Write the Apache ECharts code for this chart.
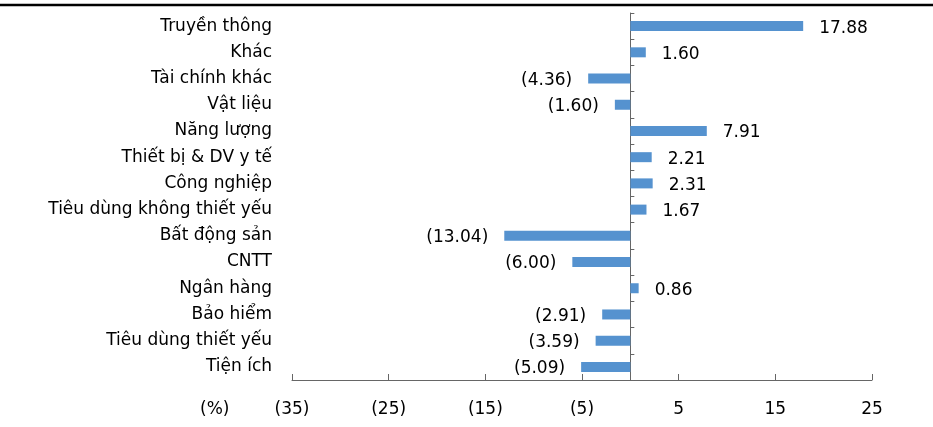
<!DOCTYPE html>
<html><head><meta charset="utf-8">
<script src="https://cdn.jsdelivr.net/npm/echarts@6/dist/echarts.min.js"></script>
<style>html,body{margin:0;padding:0;background:#fff}#c{width:933px;height:427px}</style>
</head><body><div id="c"></div>
<script>
var categories = ["Truyền thông","Khác","Tài chính khác","Vật liệu","Năng lượng","Thiết bị & DV y tế","Công nghiệp","Tiêu dùng không thiết yếu","Bất động sản","CNTT","Ngân hàng","Bảo hiểm","Tiêu dùng thiết yếu","Tiện ích"];
var values = [17.88,1.60,-4.36,-1.60,7.91,2.21,2.31,1.67,-13.04,-6.00,0.86,-2.91,-3.59,-5.09];
var xTicks = [-35,-25,-15,-5,5,15,25];
var unitLabel = "(%)";

function fmt(v){ return v<0 ? "(" + Math.abs(v).toFixed(2) + ")" : v.toFixed(2); }
var FONT = "DejaVu Sans";
var chart = echarts.init(document.getElementById('c'));
chart.setOption({
  animation:false,
  grid:{left:292,right:61,top:13,bottom:47,containLabel:false,outerBoundsMode:'none'},
  xAxis:{type:'value',min:xTicks[0],max:xTicks[xTicks.length-1],interval:10,
    splitLine:{show:false},
    axisLine:{show:true,onZero:false,lineStyle:{color:'#666',width:1}},
    axisTick:{show:true,inside:true,length:6,lineStyle:{color:'#666'}},
    axisLabel:{margin:21,color:'#000',fontFamily:FONT,fontSize:17,
      formatter:function(v){return v<0?'('+Math.abs(v)+')':String(v);}}
  },
  yAxis:[
    {type:'category',data:categories,inverse:true,position:'left',
      axisLine:{show:false,onZero:false},axisTick:{show:false},
      axisLabel:{margin:20,color:'#000',fontFamily:FONT,fontSize:17,interval:0}
    },
    {type:'category',data:categories,inverse:true,position:'left',
      axisLine:{show:true,onZero:true,lineStyle:{color:'#666',width:1}},
      axisTick:{show:true,inside:true,length:4,lineStyle:{color:'#666'}},
      axisLabel:{show:false}
    }
  ],
  series:[{type:'bar',barWidth:10,yAxisIndex:0,
    data:values.map(function(v){return {value:v,label:{position:v<0?'left':'right'}};}),
    itemStyle:{color:'#5592CF'},
    label:{show:true,distance:16,offset:[0,2],color:'#000',fontFamily:FONT,fontSize:17,
      formatter:function(p){return fmt(p.value);}}
  },{type:'bar',yAxisIndex:1,data:[],silent:true}],
  graphic:[
    {type:'line',shape:{x1:0,y1:5,x2:933,y2:5},style:{stroke:'#000',lineWidth:2.5}},
    {type:'text',left:200,top:401,style:{text:unitLabel,fontFamily:FONT,fontSize:17,fill:'#000'}}
  ]
});
</script></body></html>
